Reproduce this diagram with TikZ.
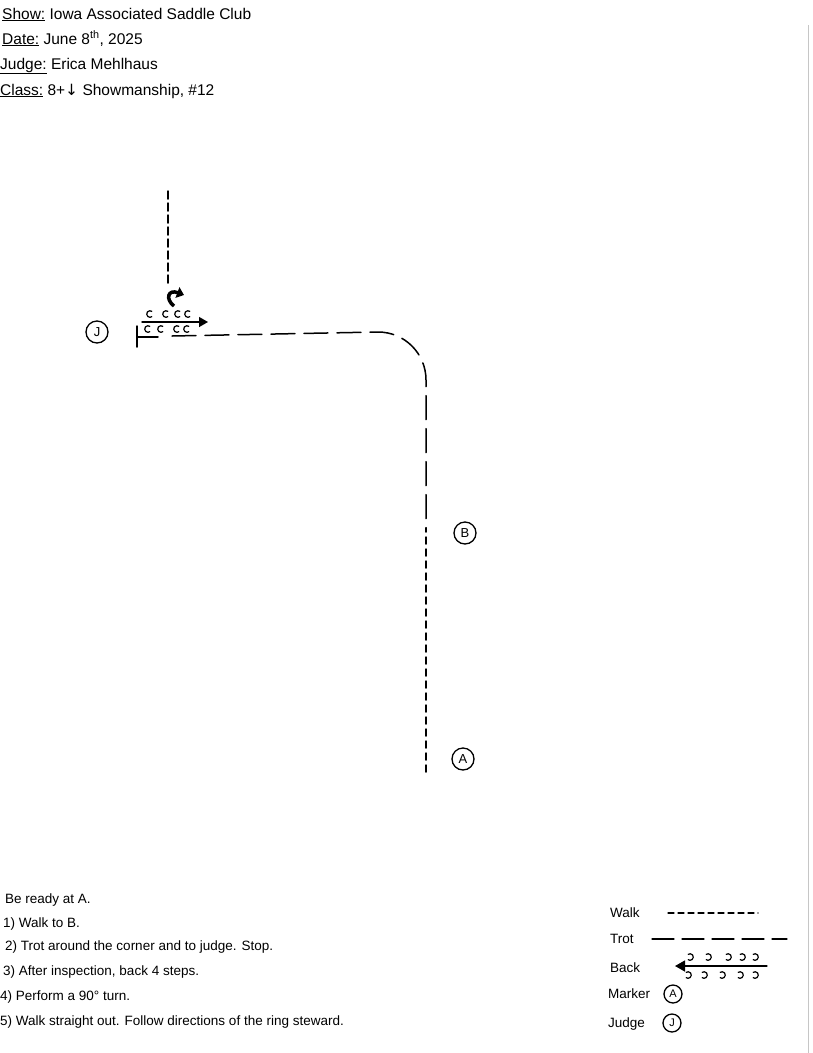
\documentclass[tikz,border=0pt]{standalone}
\usepackage{fontspec}
\setmainfont{Liberation Sans}
\newfontfamily\symfont{DejaVu Sans}
\usetikzlibrary{arrows.meta}
\tikzset{
  pen/.style={line width=1.5pt, black, line cap=round},
  trotline/.style={pen, dash pattern=on 24pt off 9pt},
  walkline/.style={pen, dash pattern=on 7pt off 5pt},
  marker/.style={circle, draw, line width=1.3pt, inner sep=0pt, minimum size=22pt, font=\fontsize{13}{15}\selectfont},
  head/.style={anchor=base west, inner sep=0pt, font=\fontsize{15.5}{18}\selectfont},
  steptext/.style={anchor=base west, inner sep=0pt, font=\fontsize{13.5}{16}\selectfont},
  legtext/.style={anchor=base west, inner sep=0pt, font=\fontsize{13.5}{16}\selectfont},
  cmark/.style={line width=1.2pt, black}
}
\begin{document}
\begin{tikzpicture}[x=1pt, y={(0pt,-1pt)}]
\useasboundingbox (0,0) rectangle (813,1053);
\fill[white] (0,0) rectangle (813,1053);
% faint scan edge
\draw[gray!45, line width=0.8pt] (808,25) -- (808,1053);

% header
\node[head] (h1) at (2,19) {\underline{Show:} Iowa Associated Saddle Club};
\node[head] (h2) at (2,44) {\underline{Date:} June 8\textsuperscript{th}, 2025};
\node[head] (h3) at (0,69) {\underline{Judge:} Erica Mehlhaus};
\node[head] (h4) at (0,95) {\underline{Class:} 8+{\symfont ↓} Showmanship, \#12};

% markers in the pattern
\node[marker] (nodeJ) at (97,332) {J};
\node[marker] (nodeB) at (465,533) {B};
\node[marker] (nodeA) at (463,759) {A};

% exit walk (straight out)
\coordinate (exitTop) at (168,188);
\coordinate (exitBot) at (168,283);
\draw[walkline, dash pattern=on 8pt off 4pt] (exitBot) -- (exitTop);

% 90 degree turn arrow
\coordinate (turnS) at (174,306);
\coordinate (turnE) at (184,295);
\draw[line width=3.5pt, -{Triangle[length=7pt,width=11pt]}] (turnS) .. controls (165,299) and (168,289) .. (turnE);

% back 4 steps arrow
\coordinate (backS) at (142,322);
\coordinate (backE) at (208,322);
\draw[pen, line width=1.4pt, -{Triangle[length=9pt,width=10pt]}] (backS) -- (backE);
\foreach \cx in {150,166,178,188}
  \draw[cmark] (\cx,314) ++(50:3.3pt) arc[start angle=50, end angle=310, radius=3.3pt];
\foreach \cx in {148,161,177,187}
  \draw[cmark] (\cx,329) ++(50:3.3pt) arc[start angle=50, end angle=310, radius=3.3pt];

% judge stop tick
\coordinate (tickT) at (137,326);
\coordinate (tickB) at (137,347);
\coordinate (tickR) at (158,337);
\draw[pen] (tickT) -- (tickB);
\draw[pen] (137,337) -- (tickR);

% trot path from B around the corner to judge
\coordinate (trotStart) at (172,336);
\coordinate (cornerA) at (378,332);
\coordinate (cornerB) at (426,380);
\coordinate (trotEnd) at (426,528);
\draw[trotline] (trotStart) -- (cornerA) to[out=0,in=90] (cornerB) -- (trotEnd);

% walk from A to B
\coordinate (walkS) at (426,772);
\draw[walkline] (walkS) -- (trotEnd);

% instructions
\node[steptext] (s0) at (5,903) {Be ready at A.};
\node[steptext] (s1) at (3,927) {1) Walk to B.};
\node[steptext] (s2) at (5,950) {2) Trot around the corner and to judge. Stop.};
\node[steptext] (s3) at (3,975) {3) After inspection, back 4 steps.};
\node[steptext] (s4) at (0,1000) {4) Perform a 90° turn.};
\node[steptext] (s5) at (0,1025) {5) Walk straight out. Follow directions of the ring steward.};

% legend
\node[legtext] (lw) at (610,917) {Walk};
\coordinate (lwS) at (668,913);
\coordinate (lwE) at (758,913);
\draw[walkline, line width=1.2pt, dash pattern=on 6pt off 4pt] (lwS) -- (lwE);

\node[legtext] (lt) at (610,943) {Trot};
\coordinate (ltS) at (652,939);
\coordinate (ltE) at (787,939);
\draw[trotline, line width=1.2pt, dash pattern=on 22pt off 8pt] (ltS) -- (ltE);

\node[legtext] (lb) at (610,972) {Back};
\coordinate (lbS) at (767,966);
\coordinate (lbE) at (675,966);
\draw[pen, line width=1.3pt, -{Triangle[length=10pt,width=11pt]}] (lbS) -- (lbE);
\foreach \cx in {690,708,728,742,755}
  \draw[cmark] (\cx,957) ++(130:3.3pt) arc[start angle=130, end angle=-130, radius=3.3pt];
\foreach \cx in {688,704,722,740,755}
  \draw[cmark] (\cx,975) ++(130:3.3pt) arc[start angle=130, end angle=-130, radius=3.3pt];

\node[legtext] (lm) at (608,998) {Marker};
\node[marker, minimum size=18pt, font=\fontsize{11}{13}\selectfont] (legA) at (673,994) {A};
\node[legtext] (lj) at (608,1027) {Judge};
\node[marker, minimum size=18pt, font=\fontsize{11}{13}\selectfont] (legJ) at (672,1023) {J};
\end{tikzpicture}
\end{document}
